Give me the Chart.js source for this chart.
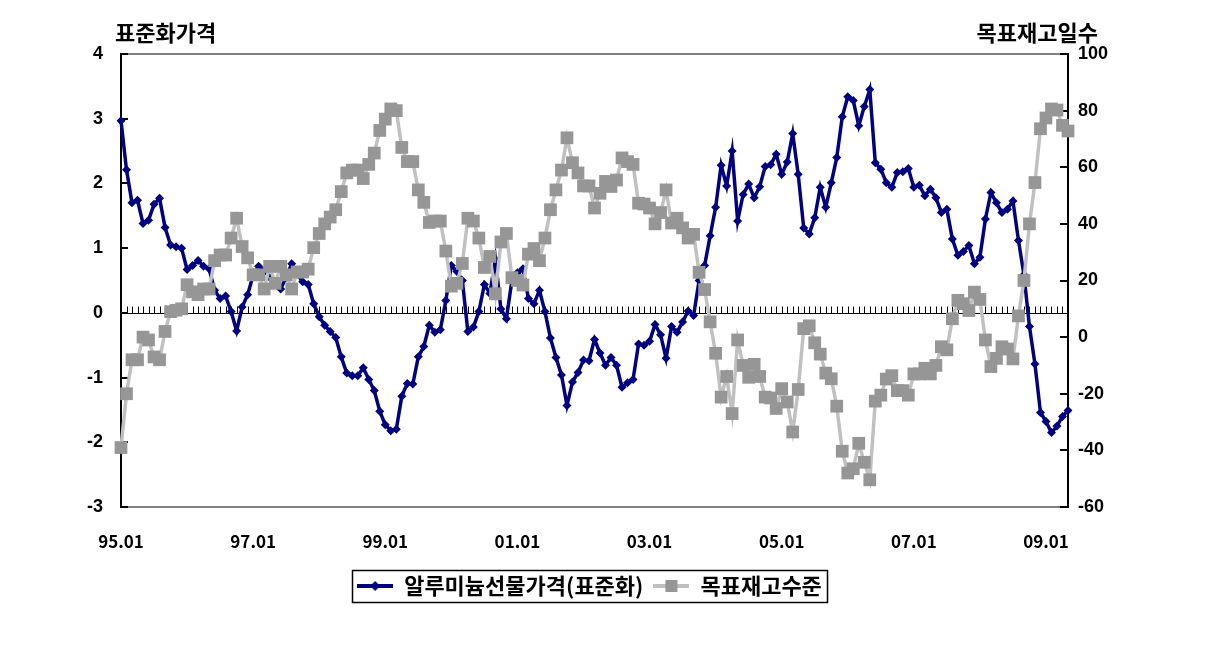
<!DOCTYPE html>
<html>
<head>
<meta charset="utf-8">
<script src="https://cdn.jsdelivr.net/npm/chart.js@4.4.1/dist/chart.umd.min.js"></script>
<style>
  html, body { margin: 0; padding: 0; background: #fff; }
  #wrap { width: 1226px; height: 648px; }
</style>
</head>
<body>
<div id="wrap"><canvas id="grafico"></canvas></div>
<script>
// monthly categories 95.01 .. 09.05
const meses = [];
for (let ano = 1995; ano <= 2009; ano++) {
    for (let m = 1; m <= 12; m++) {
        if (ano === 2009 && m > 5) break;
        meses.push(String(ano % 100).padStart(2, "0") + "." + String(m).padStart(2, "0"));
    }
}

const xTickLabels = ["95.01", "97.01", "99.01", "01.01", "03.01", "05.01", "07.01", "09.01"];
const leftTicks = [-3, -2, -1, 0, 1, 2, 3, 4];
const rightTicks = [-60, -40, -20, 0, 20, 40, 60, 80, 100];

// 알루미늄선물가격(표준화)
const precoAluminio = [
    2.97, 2.21, 1.70, 1.74, 1.38, 1.43, 1.68, 1.77, 1.32, 1.05,
    1.02, 1.00, 0.67, 0.73, 0.81, 0.72, 0.68, 0.35, 0.22, 0.26,
    0.02, -0.28, 0.09, 0.28, 0.58, 0.72, 0.65, 0.55, 0.45, 0.37,
    0.55, 0.76, 0.60, 0.48, 0.44, 0.14, -0.06, -0.19, -0.29, -0.38,
    -0.68, -0.93, -0.97, -0.97, -0.85, -1.03, -1.20, -1.52, -1.73, -1.82,
    -1.80, -1.29, -1.09, -1.10, -0.68, -0.52, -0.19, -0.30, -0.26, 0.19,
    0.73, 0.64, 0.50, -0.29, -0.22, 0.02, 0.44, 0.30, 0.83, 0.06,
    -0.09, 0.50, 0.62, 0.68, 0.22, 0.14, 0.35, 0.02, -0.39, -0.69,
    -0.96, -1.43, -1.07, -0.92, -0.73, -0.74, -0.41, -0.62, -0.81, -0.69,
    -0.81, -1.15, -1.08, -1.03, -0.48, -0.50, -0.44, -0.18, -0.34, -0.70,
    -0.21, -0.30, -0.14, 0.03, -0.04, 0.50, 0.73, 1.19, 1.63, 2.28,
    1.96, 2.50, 1.42, 1.83, 1.99, 1.78, 1.95, 2.26, 2.29, 2.45,
    2.14, 2.33, 2.77, 2.14, 1.31, 1.22, 1.47, 1.94, 1.63, 2.01,
    2.40, 3.03, 3.34, 3.28, 2.89, 3.19, 3.45, 2.32, 2.22, 2.01,
    1.94, 2.17, 2.18, 2.23, 1.94, 1.97, 1.81, 1.91, 1.78, 1.55,
    1.60, 1.14, 0.89, 0.95, 1.04, 0.76, 0.86, 1.45, 1.86, 1.70,
    1.55, 1.60, 1.73, 1.12, 0.59, -0.21, -0.79, -1.54, -1.68, -1.85,
    -1.75, -1.60, -1.51
];

// 목표재고수준 (일수)
const estoqueAlvo = [
    -39, -20, -8, -8, 0, -1, -7, -8, 2, 9,
    9.5, 10, 18.5, 16, 15, 17, 17, 27, 29, 29,
    35, 42, 32, 28, 22, 22, 17, 25, 19, 25,
    22, 17, 23, 23, 24, 31.6, 36.6, 40, 42.4, 45,
    51.4, 58, 59, 59, 56, 61, 65, 73, 77, 80.6,
    80, 67, 62, 62, 52, 47.6, 40.5, 41, 41, 30.4,
    18, 19, 26, 42, 41, 35, 24.6, 28.5, 15.3, 33.6,
    36.6, 21, 20, 18.4, 29.3, 31.3, 27, 35, 45, 52,
    59, 70.4, 61.6, 58, 53.4, 53.4, 45.6, 50.8, 55, 53.2,
    55.5, 63.3, 62, 61, 47.3, 47, 45.6, 40, 44, 52,
    40.3, 42, 38.6, 35, 36.3, 22.9, 16.8, 5.4, -5.7, -21.2,
    -13.9, -27, -1, -10, -14.2, -9.6, -13.9, -21.2, -21.5, -25.2,
    -18.2, -22.9, -33.5, -18.5, 3, 4, -2, -6, -12.7, -14.7,
    -24.4, -40.3, -48, -46.5, -37.5, -44.2, -50.4, -22.6, -20.5, -14.8,
    -13.6, -18.9, -18.9, -20.5, -13, -13, -11, -13, -10, -3.4,
    -4.5, 6.5, 13, 11.8, 9.4, 15.9, 13.3, -1, -10.4, -7.5,
    -3.4, -4.2, -7.7, 7.5, 20, 40, 54.6, 73.6, 77.4, 80.6,
    80.2, 74.8, 72.8
];

const AZUL = "#000080";
const CINZA_LINHA = "#C0C0C0";
const CINZA_MARCA = "#969696";
const FONTE_KR = "'Noto Sans CJK KR', 'Noto Sans', sans-serif";
const FONTE_NUM = "'Liberation Sans', Arial, sans-serif";

// little line+marker icons for the legend
function iconeLegenda(corLinha, corMarca, forma) {
    const c = document.createElement("canvas");
    c.width = 36;
    c.height = 14;
    const g = c.getContext("2d");
    g.strokeStyle = corLinha;
    g.lineWidth = 4;
    g.beginPath();
    g.moveTo(0, 7);
    g.lineTo(36, 7);
    g.stroke();
    g.fillStyle = corMarca;
    if (forma === "losango") {
        g.beginPath();
        g.moveTo(18, 2);
        g.lineTo(23, 7);
        g.lineTo(18, 12);
        g.lineTo(13, 7);
        g.closePath();
        g.fill();
    } else {
        g.fillRect(12, 1, 12, 12);
    }
    return c;
}
const icones = [
    iconeLegenda(AZUL, AZUL, "losango"),
    iconeLegenda(CINZA_LINHA, CINZA_MARCA, "quadrado"),
];

const moldura = {
    id: "moldura",
    beforeDatasetsDraw(chart) {
        const { ctx, chartArea: a, scales } = chart;
        const y0 = Math.round(scales.y.getPixelForValue(0)) + 0.5;
        ctx.save();
        ctx.strokeStyle = "#000";
        ctx.lineWidth = 1;
        ctx.beginPath();
        ctx.moveTo(a.left, y0);
        ctx.lineTo(a.right, y0);
        for (let i = 0; i < meses.length; i++) {
            const x = Math.round(scales.x.getPixelForValue(i)) + 0.5;
            ctx.moveTo(x, y0 - 7);
            ctx.lineTo(x, y0);
        }
        ctx.stroke();

        // gray top / bottom
        ctx.strokeStyle = "#808080";
        ctx.lineWidth = 2;
        ctx.beginPath();
        ctx.moveTo(a.left, a.top);
        ctx.lineTo(a.right, a.top);
        ctx.moveTo(a.left, a.bottom);
        ctx.lineTo(a.right, a.bottom);
        ctx.stroke();

        // black side axes with inner ticks
        ctx.strokeStyle = "#000";
        ctx.lineWidth = 2;
        ctx.beginPath();
        ctx.moveTo(a.left, a.top - 1);
        ctx.lineTo(a.left, a.bottom + 1);
        ctx.moveTo(a.right, a.top - 1);
        ctx.lineTo(a.right, a.bottom + 1);
        leftTicks.forEach((v) => {
            const y = Math.round(scales.y.getPixelForValue(v));
            ctx.moveTo(a.left, y);
            ctx.lineTo(a.left + 7, y);
        });
        rightTicks.forEach((v) => {
            const y = Math.round(scales.y1.getPixelForValue(v));
            ctx.moveTo(a.right, y);
            ctx.lineTo(a.right - 8, y);
        });
        ctx.stroke();
        ctx.restore();
    },
    afterDraw(chart) {
        const { ctx, chartArea: a, legend } = chart;
        ctx.save();
        ctx.fillStyle = "#000";
        ctx.font = "bold 22px " + FONTE_KR;
        ctx.textBaseline = "middle";
        ctx.textAlign = "left";
        ctx.fillText("표준화가격", a.left - 6, a.top - 21);
        ctx.textAlign = "right";
        ctx.fillText("목표재고일수", a.right + 30, a.top - 21);

        // border round the legend
        const caixas = legend.legendHitBoxes;
        if (caixas && caixas.length) {
            const esq = Math.min(...caixas.map((b) => b.left));
            const dir = Math.max(...caixas.map((b) => b.left + b.width));
            const cy = caixas[0].top + caixas[0].height / 2;
            ctx.strokeStyle = "#000";
            ctx.lineWidth = 1.5;
            ctx.strokeRect(Math.round(esq - 5) + 0.5, Math.round(cy - 16) + 0.5, Math.round(dir - esq + 10), 32);
        }
        ctx.restore();
    },
};

const ctx = document.getElementById("grafico");
new Chart(ctx, {
    type: "line",
    data: {
        labels: meses,
        datasets: [
            {
                label: "알루미늄선물가격(표준화)",
                data: precoAluminio,
                yAxisID: "y",
                borderColor: AZUL,
                backgroundColor: AZUL,
                borderWidth: 3.5,
                pointStyle: "rectRot",
                pointRadius: 4.5,
                pointBorderWidth: 0,
                pointBackgroundColor: AZUL,
                tension: 0,
                order: 1,
            },
            {
                label: "목표재고수준",
                data: estoqueAlvo,
                yAxisID: "y1",
                borderColor: CINZA_LINHA,
                backgroundColor: CINZA_MARCA,
                borderWidth: 3.5,
                pointStyle: "rect",
                pointRadius: 9,
                pointBorderWidth: 0,
                pointBackgroundColor: CINZA_MARCA,
                tension: 0,
                order: 0,
            },
        ],
    },
    options: {
        responsive: true,
        maintainAspectRatio: false,
        animation: false,
        layout: { padding: { top: 54, left: 0, right: 47, bottom: 41 } },
        scales: {
            x: {
                offset: false,
                grid: { display: false, drawTicks: false },
                border: { display: false },
                afterFit: (s) => { s.height = 58; },
                ticks: {
                    autoSkip: false,
                    maxRotation: 0,
                    minRotation: 0,
                    padding: 24,
                    color: "#000",
                    font: { family: FONTE_KR, size: 17, weight: "bold" },
                    callback: function (value) {
                        const rotulo = this.getLabelForValue(value);
                        return xTickLabels.includes(rotulo) ? rotulo : "";
                    },
                },
            },
            y: {
                position: "left",
                min: leftTicks[0],
                max: leftTicks[leftTicks.length - 1],
                afterBuildTicks: (s) => { s.ticks = leftTicks.map((v) => ({ value: v })); },
                afterFit: (s) => { s.width = 121; },
                grid: { display: false, drawTicks: false },
                border: { display: false },
                ticks: {
                    padding: 18,
                    color: "#000",
                    font: { family: FONTE_NUM, size: 18, weight: "bold" },
                },
            },
            y1: {
                position: "right",
                min: rightTicks[0],
                max: rightTicks[rightTicks.length - 1],
                afterBuildTicks: (s) => { s.ticks = rightTicks.map((v) => ({ value: v })); },
                afterFit: (s) => { s.width = 111; },
                grid: { display: false, drawTicks: false },
                border: { display: false },
                ticks: {
                    padding: 10,
                    color: "#000",
                    font: { family: FONTE_NUM, size: 18, weight: "bold" },
                },
            },
        },
        plugins: {
            legend: {
                position: "bottom",
                labels: {
                    usePointStyle: true,
                    pointStyleWidth: 36,
                    boxHeight: 14,
                    padding: 10,
                    color: "#000",
                    font: { family: FONTE_KR, size: 22, weight: "bold" },
                    generateLabels: (chart) =>
                        chart.data.datasets.map((ds, i) => ({
                            text: ds.label,
                            pointStyle: icones[i],
                            fillStyle: ds.backgroundColor,
                            strokeStyle: ds.borderColor,
                            lineWidth: 0,
                            fontColor: "#000",
                            hidden: false,
                            datasetIndex: i,
                        })),
                },
            },
            tooltip: { enabled: false },
        },
    },
    plugins: [moldura],
});
</script>
</body>
</html>
